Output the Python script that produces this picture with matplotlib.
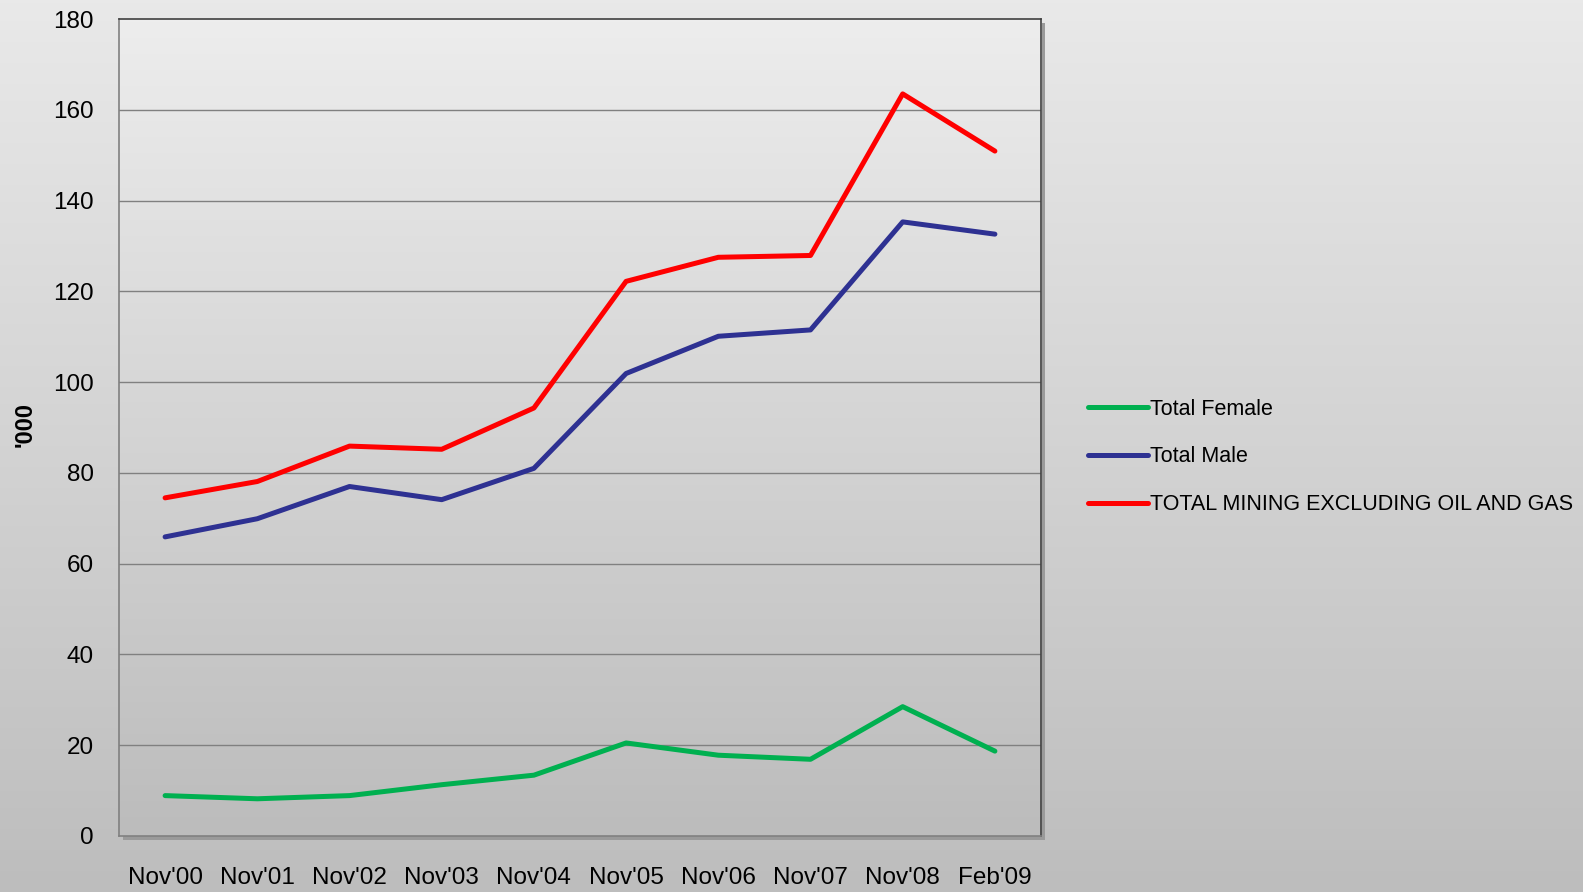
import numpy as np
import matplotlib
matplotlib.use("Agg")
import matplotlib.pyplot as plt

plt.rcParams["font.family"] = ["Liberation Sans", "DejaVu Sans"]

periods = ["Nov'00", "Nov'01", "Nov'02", "Nov'03", "Nov'04",
           "Nov'05", "Nov'06", "Nov'07", "Nov'08", "Feb'09"]
female = [8.9, 8.2, 8.9, 11.3, 13.4, 20.5, 17.8, 16.9, 28.5, 18.7]
male = [65.9, 69.9, 77.0, 74.1, 81.0, 101.9, 110.1, 111.5, 135.3, 132.6]
total = [74.5, 78.1, 85.9, 85.2, 94.3, 122.2, 127.5, 127.9, 163.5, 150.9]


def main():
    fig = plt.figure(figsize=(15.83, 8.92), dpi=100)

    # figure background gradient
    bg = fig.add_axes([0, 0, 1, 1], zorder=-10)
    grad = np.linspace(0, 1, 256).reshape(-1, 1)
    bg.imshow(grad, aspect="auto", cmap=matplotlib.colors.LinearSegmentedColormap.from_list(
        "bg", ["#e9e9e9", "#bdbdbd"]), extent=[0, 1, 1, 0])
    bg.set_axis_off()

    l, r, t, b = 119, 1041, 19, 836
    W, H = 1583, 892
    ax = fig.add_axes([l / W, 1 - b / H, (r - l) / W, (b - t) / H])

    # shadow behind the plot area
    sh = fig.add_axes([(l + 4) / W, 1 - (b + 4) / H, (r - l) / W, (b - t) / H], zorder=-5)
    sh.set_facecolor("#9a9a9a")
    sh.set_xticks([]); sh.set_yticks([])
    for s in sh.spines.values():
        s.set_visible(False)

    x = np.arange(len(periods))
    ax.imshow(np.linspace(0, 1, 256).reshape(-1, 1), aspect="auto",
              cmap=matplotlib.colors.LinearSegmentedColormap.from_list(
                  "pa", ["#bcbcbc", "#ededed"]),
              extent=[-0.5, 9.5, 0, 180], origin="lower", zorder=0)

    for v in range(20, 180, 20):
        ax.axhline(v, color="#808080", lw=1, zorder=1)

    ax.plot(x, female, color="#00b050", lw=3.6, solid_capstyle="round",
            label="Total Female", zorder=3)
    ax.plot(x, male, color="#2e3192", lw=3.6, solid_capstyle="round",
            label="Total Male", zorder=3)
    ax.plot(x, total, color="#ff0000", lw=3.6, solid_capstyle="round",
            label="TOTAL MINING EXCLUDING OIL AND GAS", zorder=3)

    ax.set_xlim(-0.5, 9.5)
    ax.set_ylim(0, 180)
    ax.set_yticks(range(0, 181, 20))
    ax.set_xticks(x)
    ax.set_xticklabels(periods)
    ax.tick_params(axis="both", length=0, labelsize=17.5)
    ax.tick_params(axis="x", pad=22)
    ax.tick_params(axis="y", pad=18)
    for name, s in ax.spines.items():
        s.set_color("#404040" if name in ("top", "right") else "#808080")
        s.set_linewidth(1.2)

    fig.text(25 / W, 1 - 424 / H, "'000", rotation=90, fontsize=17,
             fontweight="bold", ha="center", va="center")

    ax.legend(loc="center left", bbox_to_anchor=(1.03, 0.464), frameon=False,
              fontsize=15.5, handlelength=2.8, handletextpad=0.1,
              labelspacing=1.25)

    fig.savefig("out.png", dpi=100)


if __name__ == "__main__":
    main()
